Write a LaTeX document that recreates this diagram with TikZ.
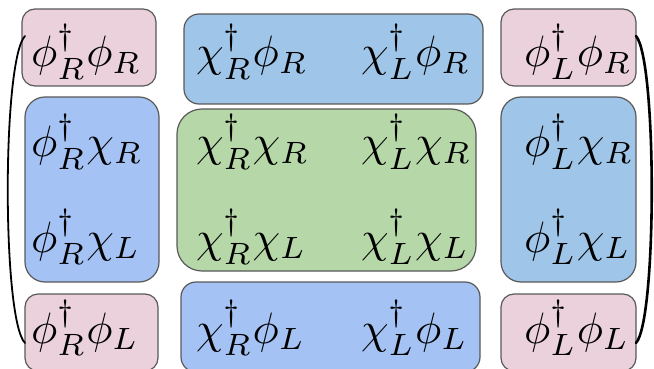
\documentclass[tikz,border=0pt]{standalone}
\usepackage{graphicx}
\definecolor{pinkfill}{HTML}{EAD1DC}
\definecolor{skyfill}{HTML}{9FC5E8}
\definecolor{cornfill}{HTML}{A4C2F4}
\definecolor{greenfill}{HTML}{B6D7A8}
\definecolor{edgegray}{HTML}{595959}
% matrix entries, set at 10pt and enlarged
\newcommand\bigterm[1]{\scalebox{4.4}{$#1$}}
\tikzset{
  cell/.style={draw=edgegray, line width=1.2pt, rounded corners=#1, inner sep=0pt},
  term/.style={anchor=base west, inner sep=0pt},
  paren/.style={draw=black, line width=#1, line cap=round}
}
\begin{document}
\begin{tikzpicture}[x=1pt, y=-1pt]
\useasboundingbox (0,0) rectangle (654,369);

% cells of the matrix
\node[cell=13pt, fill=pinkfill,  minimum width=134pt, minimum height=77pt]  (pTL) at (89,47.5) {};
\node[cell=15pt, fill=skyfill,   minimum width=299pt, minimum height=90pt]  (bTC) at (333.5,59) {};
\node[cell=13pt, fill=pinkfill,  minimum width=135pt, minimum height=77pt]  (pTR) at (568.5,47.5) {};
\node[cell=20pt, fill=cornfill,  minimum width=134pt, minimum height=185pt] (bML) at (92,189.5) {};
\node[cell=25pt, fill=greenfill, minimum width=299pt, minimum height=162pt] (gC)  at (326.5,190) {};
\node[cell=20pt, fill=skyfill,   minimum width=135pt, minimum height=185pt] (bMR) at (568.5,189.5) {};
\node[cell=13pt, fill=pinkfill,  minimum width=133pt, minimum height=77pt]  (pBL) at (91.5,332.5) {};
\node[cell=15pt, fill=cornfill,  minimum width=299pt, minimum height=90pt]  (bBC) at (330.5,327) {};
\node[cell=13pt, fill=pinkfill,  minimum width=135pt, minimum height=77pt]  (pBR) at (568.5,332.5) {};

% entries
\node[term] (t00) at (31,67)  {\bigterm{\phi^\dagger_R\phi_R}};
\node[term] (t01) at (196,67) {\bigterm{\chi^\dagger_R\phi_R}};
\node[term] (t02) at (361,67) {\bigterm{\chi^\dagger_L\phi_R}};
\node[term] (t03) at (524,67) {\bigterm{\phi^\dagger_L\phi_R}};

\node[term] (t10) at (31,157)  {\bigterm{\phi^\dagger_R\chi_R}};
\node[term] (t11) at (196,157) {\bigterm{\chi^\dagger_R\chi_R}};
\node[term] (t12) at (361,157) {\bigterm{\chi^\dagger_L\chi_R}};
\node[term] (t13) at (524,157) {\bigterm{\phi^\dagger_L\chi_R}};

\node[term] (t20) at (31,252)  {\bigterm{\phi^\dagger_R\chi_L}};
\node[term] (t21) at (196,252) {\bigterm{\chi^\dagger_R\chi_L}};
\node[term] (t22) at (361,252) {\bigterm{\chi^\dagger_L\chi_L}};
\node[term] (t23) at (524,252) {\bigterm{\phi^\dagger_L\chi_L}};

\node[term] (t30) at (31,343)  {\bigterm{\phi^\dagger_R\phi_L}};
\node[term] (t31) at (196,343) {\bigterm{\chi^\dagger_R\phi_L}};
\node[term] (t32) at (361,343) {\bigterm{\chi^\dagger_L\phi_L}};
\node[term] (t33) at (524,343) {\bigterm{\phi^\dagger_L\phi_L}};

% matrix parentheses
\coordinate (lTop) at (25,36);
\coordinate (lBot) at (25,343);
\coordinate (rTop) at (636,36);
\coordinate (rBot) at (636,343);
\draw[paren=1.8pt] (lTop) .. controls (2,60) and (2,320) .. (lBot);
\draw[paren=2.6pt] (rTop) .. controls (657,60) and (657,320) .. (rBot);
\end{tikzpicture}
\end{document}
